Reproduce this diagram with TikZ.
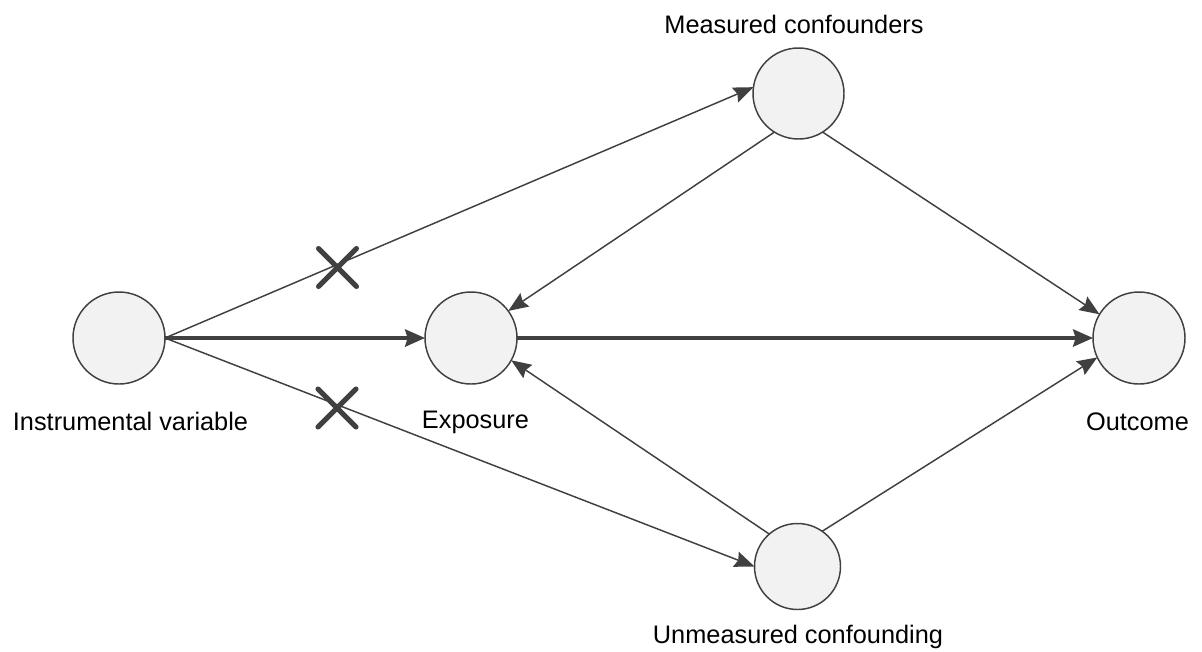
\documentclass[tikz,border=0pt]{standalone}
\usepackage{fontspec}
\setmainfont{Liberation Sans}
\usetikzlibrary{arrows.meta,calc}
\definecolor{ink}{HTML}{404040}
\definecolor{circfill}{HTML}{F2F2F2}
\begin{document}
\begin{tikzpicture}[x=0.75pt,y=-0.75pt,
  var/.style={circle,draw=ink,line width=1.1pt,fill=circfill,inner sep=0pt,outer sep=0pt,minimum size=69pt},
  lbl/.style={anchor=base,inner sep=0pt,font=\fontsize{19}{23}\selectfont},
  thin/.style={draw=ink,line width=1.1pt,-{Stealth[length=15pt,width=12pt,inset=2pt]}},
  thick/.style={draw=ink,line width=2.3pt,-{Stealth[length=15pt,width=13pt,inset=2pt]}},
  cross/.style={draw=ink,line width=3.8pt,line cap=round}]
\useasboundingbox (0,0) rectangle (1202,651);
\node[var] (iv) at (119,338) {};
\node[var] (exp) at (471,338) {};
\node[var] (out) at (1139,338) {};
\node[var,minimum size=68.25pt] (meas) at (798.5,93.5) {};
\node[var,minimum size=64.5pt] (unm) at (797.5,566.5) {};
\node[lbl] (ivl) at (130.5,430) {Instrumental variable};
\node[lbl] (expl) at (475.5,428) {Exposure};
\node[lbl] (outl) at (1137.5,430) {Outcome};
\node[lbl] (measl) at (794,33) {Measured confounders};
\node[lbl] (unml) at (798,643) {Unmeasured confounding};
\draw[thick] (iv.east) -- (exp.west);
\draw[thick] (exp.east) -- (out.west);
\draw[thin] (iv.east) -- (meas.172);
\draw[thin] (iv.east) -- (unm.west);
\draw[thin] (meas.238) -- (exp.36);
\draw[thin] (meas.302) -- (out.149);
\draw[thin] (unm.131) -- (exp.-29);
\draw[thin] (unm.55) -- (out.205);
\coordinate (x1) at (337.5,267.5);
\coordinate (x2) at (337,408);
\draw[cross] ($(x1)+(-19,-19)$) -- ($(x1)+(19,19)$) ($(x1)+(-19,19)$) -- ($(x1)+(19,-19)$);
\draw[cross] ($(x2)+(-19,-19)$) -- ($(x2)+(19,19)$) ($(x2)+(-19,19)$) -- ($(x2)+(19,-19)$);
\end{tikzpicture}
\end{document}
